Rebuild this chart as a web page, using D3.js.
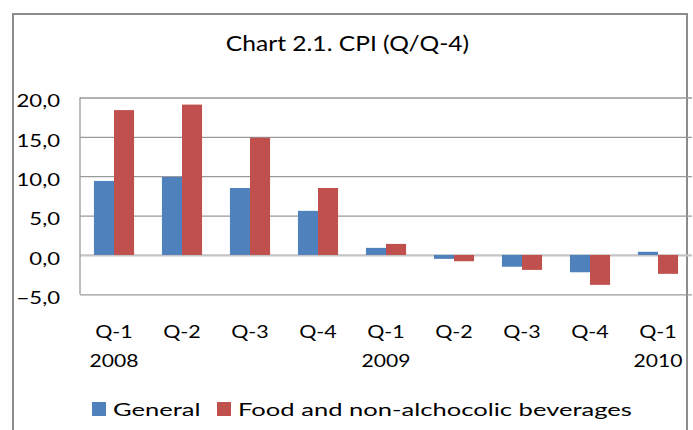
<!DOCTYPE html>
<html><head><meta charset="utf-8">
<script src="https://cdn.jsdelivr.net/npm/d3@7"></script>
<style>
html,body{margin:0;padding:0;background:#fff;}
svg{display:block;font-family:Lato,"Noto Sans",sans-serif;}
</style></head>
<body>
<svg id="c" width="693" height="430"></svg>
<script>
const quarters = ["Q-1","Q-2","Q-3","Q-4","Q-1","Q-2","Q-3","Q-4","Q-1"];
const years = ["2008","","","","2009","","","","2010"];
const general = [9.4, 9.9, 8.5, 5.6, 0.9, -0.5, -1.5, -2.2, 0.4];
const food = [18.4, 19.1, 14.9, 8.5, 1.4, -0.8, -1.9, -3.8, -2.4];
const seriesNames = ["General","Food and non-alchocolic beverages"];
const seriesColors = ["#4f81bd","#c0504d"];
const yTicks = [-5, 0, 5, 10, 15, 20];
const title = "Chart 2.1. CPI (Q/Q-4)";

const svg = d3.select("#c");
const plot = {left: 80, right: 692, top: 97.5, bottom: 294.3};

// stretch text horizontally by a factor (reference glyphs are widely spaced)
function stretch(sel, f){
  sel.each(function(){
    const n = this.getComputedTextLength();
    d3.select(this).attr("textLength", n*f).attr("lengthAdjust","spacingAndGlyphs");
  });
}

// outer border
svg.append("rect").attr("x",13).attr("y",14).attr("width",674).attr("height",440)
  .attr("fill","none").attr("stroke","#8c8c8c").attr("stroke-width",2);

const idx = d3.range(quarters.length);
const x = d3.scaleBand().domain(idx).range([plot.left, plot.right]).paddingInner(0.41).paddingOuter(0.205);
const x1 = d3.scaleBand().domain([0,1]).range([0, x.bandwidth()]);
const y = d3.scaleLinear().domain([-5, 20]).range([plot.bottom, plot.top]);

// gridlines
const yAxis = d3.axisLeft(y).tickValues(yTicks).tickSize(-(plot.right-plot.left))
  .tickFormat(d => d3.format(".1f")(d).replace(".", ","));
const ga = svg.append("g").attr("transform",`translate(${plot.left},0)`).call(yAxis);
ga.select(".domain").remove();
ga.selectAll(".tick line").attr("stroke", d => d===0 ? "#c4c4c4" : "#9a9a9a")
  .attr("stroke-width", d => d===0 ? 2.2 : 1.3);
ga.selectAll(".tick text").attr("x",-20).attr("dy","0.55em").attr("fill","#000")
  .attr("font-size",17).attr("font-family","Lato").call(stretch,1.3);

// plot-area left edge
svg.append("line").attr("x1",plot.left).attr("x2",plot.left).attr("y1",plot.top).attr("y2",plot.bottom)
  .attr("stroke","#9a9a9a").attr("stroke-width",1.3);

// bars
const data = idx.map(i => [general[i], food[i]]);
const g = svg.append("g");
g.selectAll("g").data(data).join("g")
  .attr("transform",(d,i)=>`translate(${x(i)},0)`)
  .selectAll("rect").data(d=>d).join("rect")
  .attr("x",(d,j)=>x1(j)).attr("width",x1.bandwidth())
  .attr("y",d=>y(Math.max(0,d))).attr("height",d=>Math.abs(y(d)-y(0)))
  .attr("fill",(d,j)=>seriesColors[j]);

// x labels
const xl = svg.append("g").attr("font-size",17).attr("text-anchor","middle");
xl.selectAll("text.q").data(quarters).join("text").attr("class","q")
  .attr("x",(d,i)=>x(i)+x.bandwidth()/2).attr("y",338).text(d=>d).call(stretch,1.26);
xl.selectAll("text.yr").data(years).join("text").attr("class","yr")
  .attr("x",(d,i)=>x(i)+x.bandwidth()/2).attr("y",367).text(d=>d)
  .filter(d=>d!=="").call(stretch,1.24);

// title
svg.append("text").attr("x",347.5).attr("y",51).attr("text-anchor","middle")
  .attr("font-size",20.5).text(title).call(stretch,1.2);

// legend
const leg = svg.append("g");
const legX = [92, 217];
seriesNames.forEach((s,i)=>{
  leg.append("rect").attr("x",legX[i]).attr("y",402).attr("width",14).attr("height",14).attr("fill",seriesColors[i]);
  leg.append("text").attr("x",legX[i]+21).attr("y",416).attr("font-size",18).text(s).call(stretch,1.42);
});
</script>
</body></html>
